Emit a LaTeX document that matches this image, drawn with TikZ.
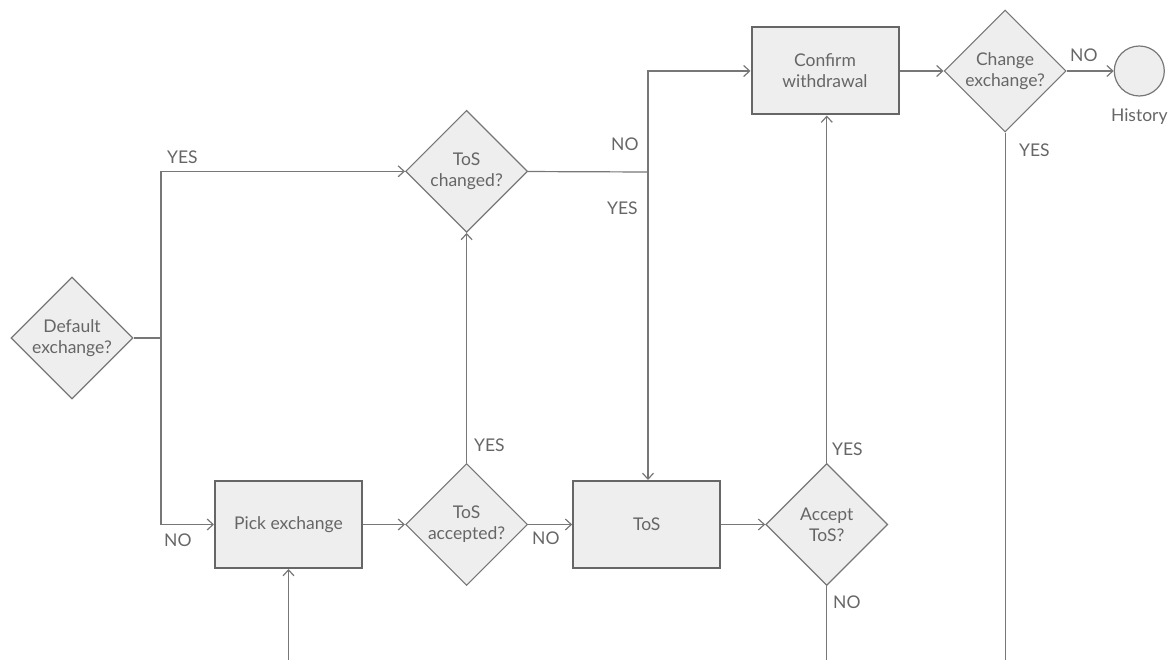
\documentclass[tikz,border=0pt]{standalone}
\usepackage{fontspec}
\setmainfont{Lato}
\usetikzlibrary{shapes.geometric, arrows.meta, positioning, calc}
\definecolor{flowfill}{RGB}{238,238,238}
\definecolor{flowline}{RGB}{119,119,119}
\definecolor{boxline}{RGB}{102,102,102}
\definecolor{flowtext}{RGB}{102,102,102}

\begin{document}
\begin{tikzpicture}[
    x=1pt, y=-1pt,
    every node/.style={font=\fontsize{17.5}{21}\selectfont, text=flowtext},
    process/.style={rectangle, draw=boxline, line width=2pt, fill=flowfill,
                    minimum width=147pt, minimum height=87pt, align=center},
    decision/.style={diamond, aspect=1, draw=flowline, line width=1.2pt, fill=flowfill,
                     minimum width=122pt, minimum height=122pt, inner sep=0pt, align=center},
    terminal/.style={circle, draw=flowline, line width=1.2pt, fill=flowfill,
                     minimum size=50pt, inner sep=0pt},
    answer/.style={anchor=base west, inner sep=0pt},
    arrow/.style={-{Straight Barb[length=6pt,width=11pt]}, draw=flowline, line width=1.2pt},
    line/.style={draw=flowline, line width=1.2pt}
]
    \useasboundingbox (0,0) rectangle (1176,660);

    % Lower row
    \node[decision] (default) at (72,338) {Default\\exchange?};
    \node[process] (pick) at (288.5,524.5) {Pick exchange};
    \node[decision, right=42pt of pick] (tosaccepted) {ToS\\accepted?};
    \node[process, right=44pt of tosaccepted] (tos) {ToS};
    \node[decision, right=44pt of tos] (accept) {Accept\\ToS?};

    % Upper row
    \node[decision, above=230pt of tosaccepted] (toschanged) {ToS\\changed?};
    \node[process] (confirm) at (825,71) {Confirm\\withdrawal};
    \node[decision, right=44pt of confirm] (changeex) {Change\\exchange?};
    \node[terminal, right=47pt of changeex] (history) {};
    \node[below=9pt of history] (historylbl) {History};

    % Junctions and loose ends
    \coordinate (split) at (161,338);
    \coordinate (merge) at (648,172);
    \coordinate (bottom) at (0,660);
    \coordinate (pickin) at (pick |- bottom);

    % Arrows
    \draw[line] (default) -- (split);
    \draw[arrow] (split) |- (toschanged);
    \draw[arrow] (split) |- (pick);
    \draw[line] (toschanged) -- (merge);
    \draw[arrow] (merge) |- (confirm);
    \draw[arrow] (merge) -- (merge |- tos.north);
    \draw[arrow] (pick) -- (tosaccepted);
    \draw[arrow] (tosaccepted) -- (tos);
    \draw[arrow] (tos) -- (accept);
    \draw[arrow] (tosaccepted) -- (toschanged);
    \draw[arrow] (accept) -- (accept |- confirm.south);
    \draw[line] (accept) -- (accept |- bottom);
    \draw[arrow] (pickin) -- (pick);
    \draw[arrow] (confirm) -- (changeex);
    \draw[arrow] (changeex) -- (history);
    \draw[line] (changeex) -- (changeex |- bottom);

    % Labels
    \node[answer] (defyes) at (167,164) {YES};
    \node[answer] (defno) at (164,546) {NO};
    \node[answer] (chgno) at (611,151) {NO};
    \node[answer] (chgyes) at (607,215) {YES};
    \node[answer] (accyes) at (474,451) {YES};
    \node[answer] (accno) at (532,544) {NO};
    \node[answer] (tosyes) at (832,455) {YES};
    \node[answer] (tosno) at (833,608) {NO};
    \node[answer] (exno) at (1070,62) {NO};
    \node[answer] (exyes) at (1019,157) {YES};
\end{tikzpicture}
\end{document}
